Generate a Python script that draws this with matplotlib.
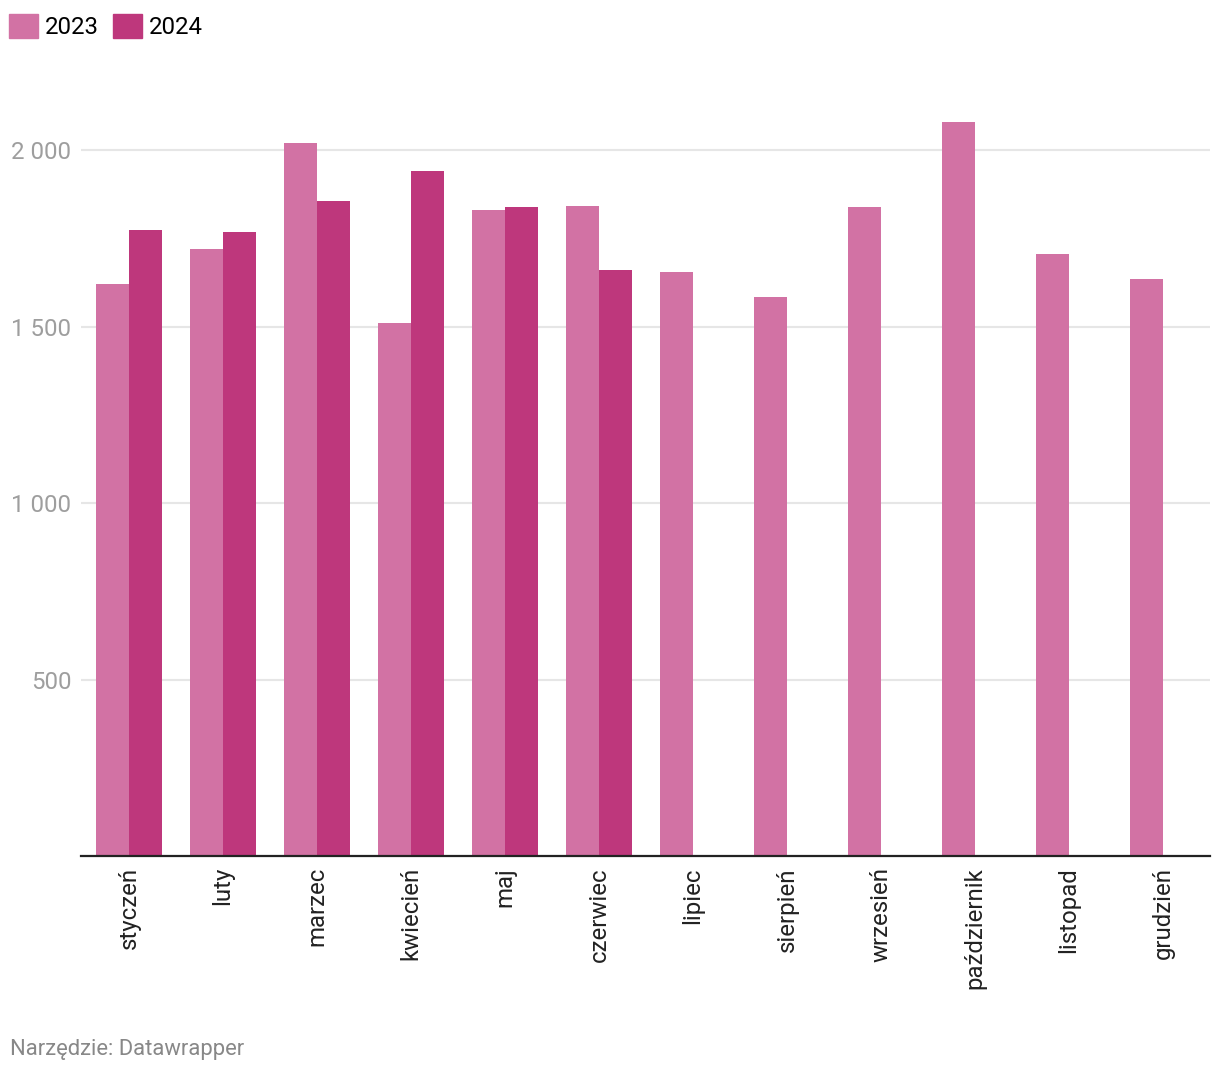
import numpy as np
import matplotlib.pyplot as plt
from matplotlib.patches import Patch

plt.rcParams['font.family'] = ['Roboto', 'DejaVu Sans']

# data
months = ['styczeń', 'luty', 'marzec', 'kwiecień', 'maj', 'czerwiec',
          'lipiec', 'sierpień', 'wrzesień', 'październik', 'listopad', 'grudzień']
v2023 = [1620, 1720, 2020, 1510, 1830, 1841, 1654, 1584, 1838, 2079, 1705, 1635]
v2024 = [1773, 1768, 1855, 1940, 1838, 1660]
yticks = [500, 1000, 1500, 2000]
ytick_labels = ['500', '1 000', '1 500', '2 000']

c2023 = '#d272a4'
c2024 = '#be377c'

W, H = 1220, 1076
fig = plt.figure(figsize=(W / 100, H / 100), dpi=100)
ax = fig.add_axes([81 / W, (H - 856) / H, (1210 - 81) / W, (856 - 106) / H])

x = np.arange(len(months))
bw = 0.351
ax.bar(x - bw / 2, v2023, width=bw, color=c2023, zorder=2)
ax.bar(np.arange(len(v2024)) + bw / 2, v2024, width=bw, color=c2024, zorder=2)

ax.set_xlim(-0.51, 11.5)
ax.set_ylim(0, 2125)

ax.set_yticks(yticks)
ax.set_yticklabels(ytick_labels)
ax.yaxis.grid(True, color='#e6e6e6', linewidth=1.5, zorder=0)
ax.tick_params(axis='y', length=0, pad=7, labelsize=17.3, labelcolor='#9e9e9e')

ax.set_xticks(x)
ax.set_xticklabels(months, rotation=90, ha='center', va='top')
ax.tick_params(axis='x', length=0, pad=8, labelsize=17.3, labelcolor='#222222')

for s in ['top', 'right', 'left']:
    ax.spines[s].set_visible(False)
ax.spines['bottom'].set_color('#222222')
ax.spines['bottom'].set_linewidth(1.6)
ax.spines['bottom'].set_zorder(3)

handles = [Patch(color=c2023, label='2023'), Patch(color=c2024, label='2024')]
fig.legend(handles=handles, loc='upper left', bbox_to_anchor=(4 / W, 1 - 9 / H),
           ncol=2, frameon=False, fontsize=17.3, handlelength=1.2, handleheight=1.2,
           handletextpad=0.3, columnspacing=0.6, borderaxespad=0, borderpad=0.2)

fig.text(10 / W, 1 - 1050 / H, 'Narzędzie: Datawrapper', fontsize=15.8,
         color='#888888', ha='left', va='center')

fig.savefig('out.png', dpi=100)
